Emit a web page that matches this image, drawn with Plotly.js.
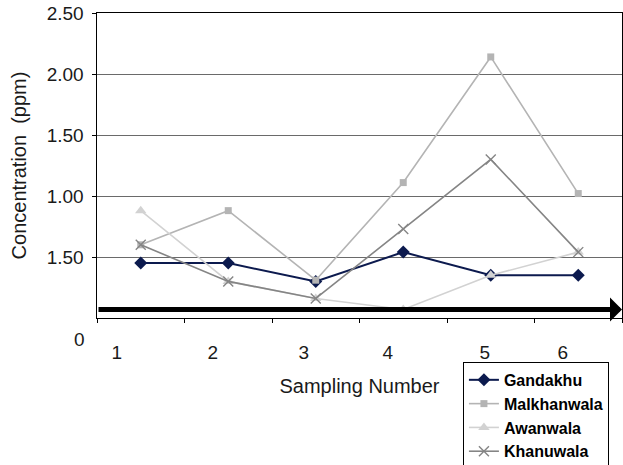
<!DOCTYPE html>
<html>
<head>
<meta charset="utf-8">
<script src="https://cdn.plot.ly/plotly-3.0.1.min.js"></script>
<style>
  html, body { margin: 0; padding: 0; background: #fff; }
  #chart { width: 623px; height: 465px; }
</style>
</head>
<body>
<div id="chart"></div>
<script>
// Sampling rounds and measured concentrations (ppm) per site
const samplingNumbers = [1, 2, 3, 4, 5, 6];
const gandakhu    = [0.45, 0.45, 0.30, 0.54, 0.35, 0.35];
const malkhanwala = [0.60, 0.88, 0.31, 1.11, 2.14, 1.02];
const awanwala    = [0.88, 0.30, 0.16, 0.07, 0.35, 0.54];
const khanuwala   = [0.60, 0.30, 0.16, 0.73, 1.30, 0.54];

// Axis tick labels
const xTickText = ['1', '2', '3', '4', '5', '6'];
const yTickValues = [0.5, 1.0, 1.5, 2.0, 2.5];
const yTickText = ['1.50', '1.00', '1.50', '2.00', '2.50'];
const yZeroLabel = '0';

// Reference level drawn as a thick arrow across the plot
const referenceLevel = 0.07;

const FONT = 'Liberation Sans, Arial, sans-serif';
const TEXT = '#1a1a1a';

// x labels sit slightly left of the category centres
const xLabelShift = [-0.275, -0.178, -0.137, -0.177, -0.069, -0.176];
const xLabelPos = samplingNumbers.map((v, i) => v + xLabelShift[i]);
const catEdges = [0.5].concat(samplingNumbers.map(v => v + 0.5));

const traces = [
  { name: 'Gandakhu', y: gandakhu, color: '#0c1a4e', width: 2,
    marker: { symbol: 'diamond', size: 10 } },
  { name: 'Malkhanwala', y: malkhanwala, color: '#b4b4b4', width: 1.6,
    marker: { symbol: 'square', size: 7 } },
  { name: 'Awanwala', y: awanwala, color: '#d2d2d2', width: 1.6,
    marker: { symbol: 'triangle-up', size: 10 } },
  { name: 'Khanuwala', y: khanuwala, color: '#858585', width: 1.6,
    marker: { symbol: 'x-thin-open', size: 10, line: { width: 1.4 } } }
].map(t => ({
  type: 'scatter',
  mode: 'lines+markers',
  name: t.name,
  x: samplingNumbers,
  y: t.y,
  line: { color: t.color, width: t.width },
  marker: Object.assign({ color: t.color }, t.marker,
    t.marker.line ? { line: { color: t.color, width: t.marker.line.width } } : {})
}));

const layout = {
  width: 623,
  height: 465,
  margin: { l: 97, r: 1, t: 13, b: 147, autoexpand: false },
  paper_bgcolor: '#ffffff',
  plot_bgcolor: '#ffffff',
  font: { family: FONT, color: TEXT, size: 19 },
  showlegend: true,
  legend: {
    x: 0.697, y: -0.144, xanchor: 'left', yanchor: 'top',
    bgcolor: '#ffffff', bordercolor: '#000000', borderwidth: 1,
    font: { family: FONT, size: 16, color: '#000000', weight: 'bold' },
    itemwidth: 30
  },
  xaxis: {
    type: 'linear',
    range: [0.5, 6.5],
    automargin: false,
    tickmode: 'array',
    tickvals: xLabelPos,
    ticktext: xTickText,
    ticks: '',
    ticklabelstandoff: 17,
    showgrid: false,
    zeroline: false,
    showline: true,
    linecolor: '#000000',
    linewidth: 1,
    mirror: true,
    minor: {
      tickmode: 'array',
      tickvals: catEdges,
      ticks: 'outside',
      ticklen: 4,
      tickcolor: '#000000',
      showgrid: false
    },
    tickfont: { family: FONT, size: 19, color: TEXT },
    title: { text: 'Sampling Number', font: { family: FONT, size: 20, color: TEXT }, standoff: 17 }
  },
  yaxis: {
    range: [0, 2.5],
    automargin: false,
    tickmode: 'array',
    tickvals: yTickValues,
    ticktext: yTickText,
    ticks: 'outside',
    ticklen: 4,
    tickcolor: '#000000',
    ticklabelstandoff: 4,
    showgrid: true,
    gridcolor: '#6a6a6a',
    gridwidth: 1,
    zeroline: false,
    showline: true,
    linecolor: '#000000',
    linewidth: 1.5,
    mirror: true,
    tickfont: { family: FONT, size: 19, color: TEXT },
    title: { text: 'Concentration  (ppm)', font: { family: FONT, size: 20, color: TEXT }, standoff: 14 }
  },
  annotations: [
    {
      // zero label, set lower than the axis line
      xref: 'paper', yref: 'y', x: 0, y: 0,
      text: yZeroLabel, showarrow: false,
      xanchor: 'right', yanchor: 'middle', xshift: -10, yshift: -21,
      font: { family: FONT, size: 19, color: TEXT }
    },
    {
      // thick reference arrow
      xref: 'x', yref: 'y', axref: 'x', ayref: 'y',
      x: 6.5, y: referenceLevel, ax: 0.5, ay: referenceLevel,
      text: '', showarrow: true,
      arrowhead: 1, arrowsize: 0.8, arrowwidth: 5, arrowcolor: '#000000',
      standoff: 0, startstandoff: 0
    }
  ]
};

Plotly.newPlot('chart', traces, layout, { displayModeBar: false, staticPlot: true });
</script>
</body>
</html>
